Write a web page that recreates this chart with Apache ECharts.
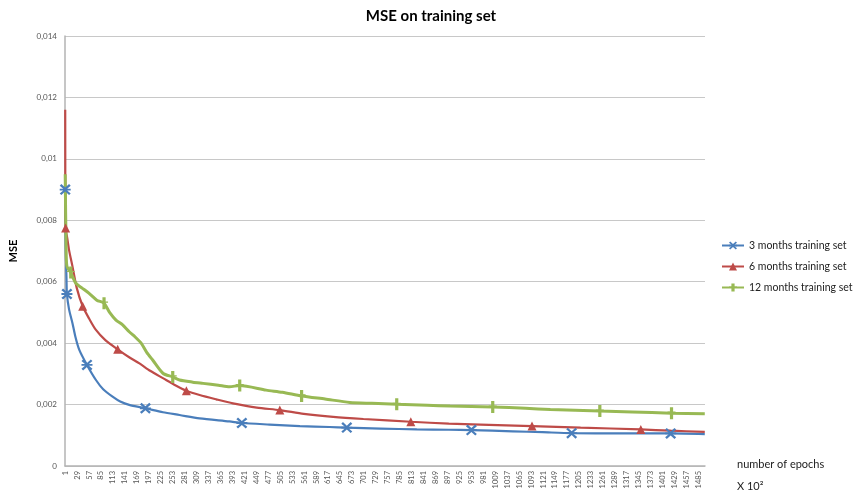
<!DOCTYPE html>
<html>
<head>
<meta charset="utf-8">
<script src="https://cdn.jsdelivr.net/npm/echarts@6/dist/echarts.min.js"></script>
<style>
  html, body { margin: 0; padding: 0; background: #fff; }
  #chart { width: 862px; height: 494px; }
</style>
</head>
<body>
<div id="chart"></div>
<script>
// epochs on the x axis (x 10^2), one category per epoch
const epochCount = 1500;
const yTickLabels = ['0', '0,002', '0,004', '0,006', '0,008', '0,01', '0,012', '0,014'];

// [epoch, MSE]
const threeMonths = [
  [1, 0.0090], [2, 0.0072], [4, 0.0061], [5, 0.0056], [10, 0.0051], [18, 0.00465],
  [25, 0.0042], [34, 0.00378], [52, 0.00329], [73, 0.0028], [90, 0.0025], [112, 0.00226],
  [130, 0.0021], [151, 0.00199], [189, 0.00188], [230, 0.00175], [269, 0.00166],
  [316, 0.00155], [386, 0.00145], [415, 0.0014], [480, 0.00135], [551, 0.0013],
  [620, 0.00127], [661, 0.00125], [740, 0.00122], [825, 0.00119], [900, 0.00118],
  [953, 0.00117], [1050, 0.00113], [1120, 0.0011], [1188, 0.00107], [1300, 0.00106],
  [1420, 0.00106], [1500, 0.00104]
];
const sixMonths = [
  [1, 0.0116], [2, 0.00775], [6, 0.0074], [10, 0.00703], [18, 0.0065], [28, 0.0058],
  [42, 0.0052], [57, 0.0048], [73, 0.00443], [95, 0.0041], [124, 0.0038], [150, 0.00355],
  [175, 0.00334], [200, 0.0031], [230, 0.00286], [260, 0.00262], [285, 0.00245],
  [316, 0.00231], [355, 0.00217], [394, 0.00204], [450, 0.0019], [504, 0.00182],
  [560, 0.0017], [629, 0.0016], [700, 0.00153], [811, 0.00144], [900, 0.00138],
  [974, 0.00135], [1095, 0.0013], [1209, 0.00125], [1350, 0.00119], [1420, 0.00115],
  [1500, 0.00111]
];
const twelveMonths = [
  [1, 0.0095], [3, 0.0072], [5, 0.0065], [14, 0.0063], [26, 0.00595], [40, 0.0058],
  [57, 0.00562], [75, 0.0054], [92, 0.0053], [105, 0.0050], [120, 0.00475], [135, 0.0046],
  [151, 0.00437], [165, 0.0042], [179, 0.0040], [192, 0.0037], [206, 0.00345],
  [230, 0.00302], [253, 0.0029], [269, 0.0028], [300, 0.00273], [324, 0.00269],
  [360, 0.00263], [386, 0.00258], [410, 0.00262], [472, 0.00247], [510, 0.0024],
  [555, 0.00228], [610, 0.00218], [668, 0.00207], [720, 0.00204], [778, 0.00201],
  [850, 0.00198], [903, 0.00195], [1003, 0.00192], [1080, 0.00188], [1138, 0.00184],
  [1254, 0.00179], [1330, 0.00176], [1422, 0.00172], [1500, 0.0017]
];

// epochs where the marker is drawn
const threeMonthsMarkers = [1, 5, 52, 189, 415, 661, 953, 1188, 1420];
const sixMonthsMarkers = [2, 42, 124, 285, 504, 811, 1095, 1350];
const twelveMonthsMarkers = [14, 92, 253, 410, 555, 778, 1003, 1254, 1422];

const categories = [];
for (let i = 1; i <= epochCount; i++) categories.push(String(i));

// bold "x" with a bar through it, like the spreadsheet marker
const crossSymbol = 'path://M0,1.5 L1.5,0 L5,3.2 L8.5,0 L10,1.5 L6.8,4.2 H10 V5.8 H6.8 L10,8.5 L8.5,10 L5,6.8 L1.5,10 L0,8.5 L3.2,5.8 H0 V4.2 H3.2 Z';
const plusSymbol = 'path://M3,0 H7 V4.4 H10 V5.6 H7 V12 H3 V5.6 H0 V4.4 H3 Z';

const toItems = (points, markers) => points.map(([epoch, mse]) => {
  const item = { value: [epoch - 1, mse] };
  if (!markers.includes(epoch)) item.symbol = 'none';
  return item;
});

const chartDom = document.getElementById('chart');
const myChart = echarts.init(chartDom);

const font = 'Lato, "Open Sans", sans-serif';

const makeSeries = (name, points, markers, color, symbol, size, width) => ({
  name: name,
  type: 'line',
  data: toItems(points, markers),
  smooth: 0.25,
  symbol: symbol,
  symbolSize: size,
  showSymbol: true,
  showAllSymbol: true,
  itemStyle: { color: color },
  lineStyle: { color: color, width: width },
  emphasis: { disabled: true },
  animation: false
});

const option = {
  backgroundColor: '#fff',
  textStyle: { fontFamily: font },
  title: {
    text: 'MSE on training set',
    left: 'center',
    top: 4,
    textStyle: { fontFamily: font, fontSize: 15, fontWeight: 'bold', color: '#000' }
  },
  legend: {
    orient: 'vertical',
    left: 716,
    top: 235,
    itemGap: 10,
    itemWidth: 22,
    itemHeight: 10,
    textStyle: { fontFamily: font, fontSize: 10.5, color: '#222' }
  },
  grid: { left: 64, right: 157, top: 36, bottom: 28 },
  xAxis: {
    type: 'category',
    data: categories,
    boundaryGap: true,
    axisLine: { lineStyle: { color: '#b3b3b3', width: 1.5 } },
    axisTick: { show: false },
    axisLabel: {
      interval: 27,
      rotate: 90,
      fontSize: 7.5,
      color: '#555',
      margin: 5,
      fontFamily: font
    },
    splitLine: { show: false }
  },
  yAxis: {
    type: 'value',
    min: 0,
    max: 0.014,
    interval: 0.002,
    name: 'MSE',
    nameLocation: 'middle',
    nameGap: 46,
    nameTextStyle: { fontFamily: font, fontSize: 11, fontWeight: 'bold', color: '#000' },
    axisLine: { show: true, lineStyle: { color: '#b3b3b3', width: 1.5 } },
    axisTick: { show: false },
    axisLabel: {
      fontSize: 8,
      color: '#555',
      margin: 8,
      formatter: (v) => yTickLabels[Math.round(v / 0.002)]
    },
    splitLine: { lineStyle: { color: '#c8c8c8', width: 1 } }
  },
  graphic: [
    { type: 'text', left: 737, top: 459, style: { text: 'number of epochs', font: '11px ' + font, fill: '#222' } },
    { type: 'text', left: 737, top: 481, style: { text: 'X 10²', font: '11px ' + font, fill: '#222' } }
  ],
  series: [
    makeSeries('3 months training set', threeMonths, threeMonthsMarkers, '#4a7ebb', crossSymbol, 11, 2.2),
    makeSeries('6 months training set', sixMonths, sixMonthsMarkers, '#be4b48', 'triangle', 9, 2.2),
    makeSeries('12 months training set', twelveMonths, twelveMonthsMarkers, '#98b954', plusSymbol, [8, 12], 3)
  ]
};

myChart.setOption(option);
</script>
</body>
</html>
